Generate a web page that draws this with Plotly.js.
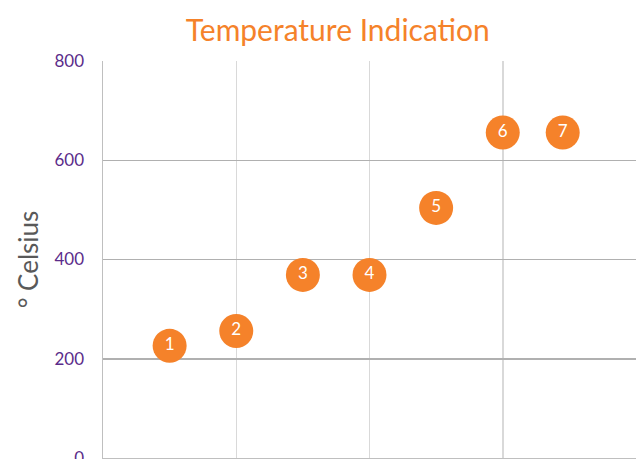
<!DOCTYPE html>
<html><head><meta charset="utf-8">
<script src="https://cdn.plot.ly/plotly-3.0.1.min.js"></script>
<style>html,body{margin:0;padding:0;background:#fff;overflow:hidden}</style>
</head><body>
<div id="chart" style="width:641px;height:475px"></div>
<script>
const xValues = [1, 2, 3, 4, 5, 6, 6.9];
const yValues = [226, 256, 369, 369, 504, 656, 656];
const pointLabels = ['1', '2', '3', '4', '5', '6', '7'];
const yTicks = [0, 200, 400, 600, 800];

const trace = {
  x: xValues, y: yValues, text: pointLabels,
  type: 'scatter', mode: 'markers+text',
  marker: {size: 34, color: '#F5822A', line: {width: 0}},
  textposition: 'middle center',
  textfont: {family: 'Lato, sans-serif', size: 17, color: '#ffffff'},
  hoverinfo: 'none', cliponaxis: false
};

const layout = {
  width: 641, height: 475,
  margin: {l: 103, r: 5, t: 61, b: 17},
  paper_bgcolor: '#ffffff', plot_bgcolor: '#ffffff',
  showlegend: false,
  title: {text: 'Temperature Indication', x: 0.527, xanchor: 'center', y: 28, yref: 'container', yanchor: 'middle',
          font: {family: 'Lato, sans-serif', size: 30, color: '#F5822A'}},
  xaxis: {range: [0, 8], dtick: 2, tick0: 0, showticklabels: false, ticks: '',
          showgrid: true, gridcolor: '#d9d9d9', gridwidth: 1.5, zeroline: false,
          showline: true, linecolor: '#bfbfbf', linewidth: 1.5, fixedrange: true},
  yaxis: {range: [0, 800], tickvals: yTicks, ticktext: yTicks.map(String), ticks: '',
          ticklabelstandoff: 14,
          tickfont: {family: 'Lato, sans-serif', size: 17, color: '#5B2C8A'},
          showgrid: true, gridcolor: '#b0b0b0', gridwidth: 1.5, zeroline: false,
          showline: true, linecolor: '#bfbfbf', linewidth: 1.5,
          title: {text: '° Celsius', standoff: 8, font: {family: 'Lato, sans-serif', size: 26, color: '#595959'}},
          fixedrange: true}
};

Plotly.newPlot('chart', [trace], layout, {displayModeBar: false, staticPlot: true});
</script>
</body></html>
